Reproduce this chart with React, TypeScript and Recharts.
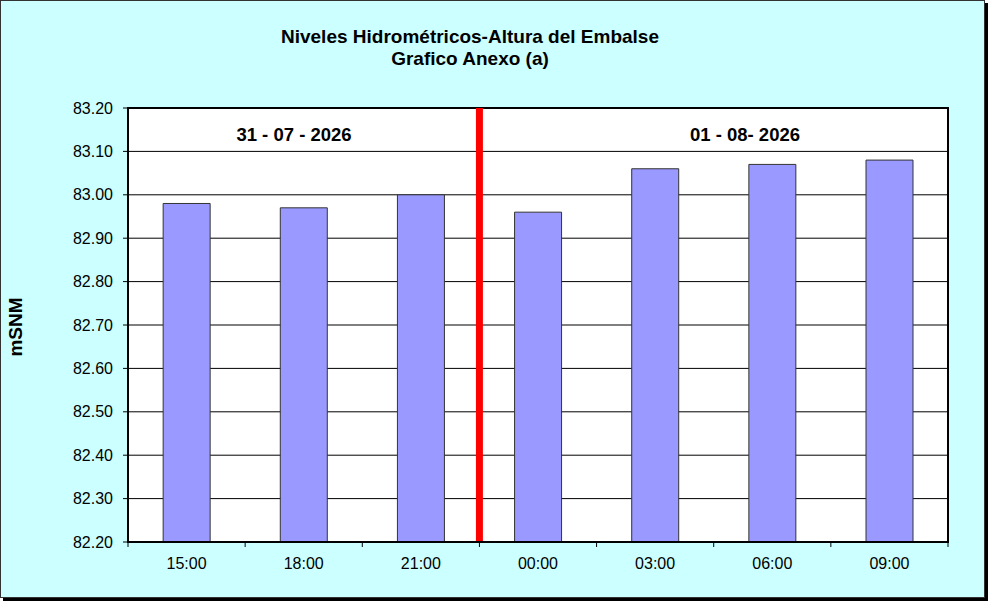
import React from "react";
import {
  BarChart, Bar, XAxis, YAxis, CartesianGrid, ReferenceLine, ReferenceArea,
} from "recharts";

// lecturas del embalse (mSNM)
const HOURS = ["15:00", "18:00", "21:00", "00:00", "03:00", "06:00", "09:00"];
const LEVELS = [82.98, 82.97, 83.0, 82.96, 83.06, 83.07, 83.08];
const Y_TICKS = [82.2, 82.3, 82.4, 82.5, 82.6, 82.7, 82.8, 82.9, 83.0, 83.1, 83.2];
const BOUNDARY_TICKS = [0, 1, 2, 3, 4, 5, 6, 7];
const DAY_SPLIT = 3;
const TITLE = ["Niveles Hidrométricos-Altura del Embalse", "Grafico Anexo (a)"];
const DAY_LABELS = ["31 - 07 - 2026", "01 - 08- 2026"];

const data = HOURS.map((h, i) => ({ hour: h, idx: i + 0.5, level: LEVELS[i] }));
// ticks: limites de categoria (con marca) y centros (con etiqueta)
const X_TICKS = [...BOUNDARY_TICKS, ...data.map((d) => d.idx)].sort((a, b) => a - b);

const FONT = "'Liberation Sans', Arial, sans-serif";

function HourTick(props: any) {
  const { x, y, payload } = props;
  const v = payload.value as number;
  if (Number.isInteger(v)) {
    return <line x1={x} y1={y} x2={x} y2={y + 5} stroke="#000" strokeWidth={1} />;
  }
  const label = HOURS[Math.floor(v)];
  return (
    <text x={x} y={y + 27} textAnchor="middle" fill="#000" fontSize={16} fontFamily={FONT}>
      {label}
    </text>
  );
}

export default function App() {
  return (
    <div style={{ position: "relative", width: 989, height: 603, fontFamily: FONT }}>
      <style>{"body{margin:0}"}</style>
      <div
        style={{
          position: "absolute", left: 0, top: 0, width: 983, height: 596,
          background: "#ccffff", border: "1px solid #333",
          boxShadow: "3px 3px 0 #000",
        }}
      />
      <div style={{ position: "absolute", left: 0, top: 0 }}>
        <BarChart
          width={989}
          height={603}
          data={data}
          margin={{ top: 108, right: 41, bottom: 31, left: 48 }}
          barCategoryGap="30%"
        >
          <CartesianGrid
            vertical={false}
            xAxisId="n"
            stroke="#000"
            fill="#fff"
            fillOpacity={1}
          />
          <XAxis dataKey="hour" hide height={0} />
          <XAxis
            xAxisId="n"
            type="number"
            dataKey="idx"
            domain={[0, 7]}
            ticks={X_TICKS}
            interval={0}
            tick={<HourTick />}
            tickSize={0}
            tickMargin={0}
            tickLine={false}
            axisLine={{ stroke: "#000", strokeWidth: 2 }}
            height={30}
          />
          <YAxis
            domain={[82.2, 83.2]}
            ticks={Y_TICKS}
            allowDataOverflow
            tickFormatter={(v: number) => v.toFixed(2)}
            tick={{ fill: "#000", fontSize: 16 }}
            tickSize={5}
            tickMargin={10}
            tickLine={{ stroke: "#000" }}
            axisLine={{ stroke: "#000", strokeWidth: 2 }}
            width={80}
          />
          <Bar
            dataKey="level"
            fill="#9999ff"
            stroke="#333"
            strokeWidth={1}
            isAnimationActive={false}
          />
          <ReferenceArea
            xAxisId="n"
            x1={0}
            x2={7}
            y1={82.2}
            y2={83.2}
            fill="none"
            stroke="#000"
            strokeWidth={2}
            ifOverflow="visible"
          />
          <ReferenceLine
            xAxisId="n"
            x={DAY_SPLIT}
            stroke="#ff0000"
            strokeWidth={7}
            ifOverflow="visible"
          />
        </BarChart>
      </div>
      <div
        style={{
          position: "absolute", left: 220, top: 26, width: 500, textAlign: "center",
          fontWeight: "bold", fontSize: 19, lineHeight: "22px", color: "#000",
        }}
      >
        <div>{TITLE[0]}</div>
        <div>{TITLE[1]}</div>
      </div>
      <div
        style={{
          position: "absolute", left: 194, top: 124, width: 200, textAlign: "center",
          fontWeight: "bold", fontSize: 18.5, color: "#000",
        }}
      >
        {DAY_LABELS[0]}
      </div>
      <div
        style={{
          position: "absolute", left: 645, top: 124, width: 200, textAlign: "center",
          fontWeight: "bold", fontSize: 18.5, color: "#000",
        }}
      >
        {DAY_LABELS[1]}
      </div>
      <div
        style={{
          position: "absolute", left: -24, top: 316, width: 80, textAlign: "center",
          fontWeight: "bold", fontSize: 19, color: "#000", transform: "rotate(-90deg)",
        }}
      >
        mSNM
      </div>
    </div>
  );
}
